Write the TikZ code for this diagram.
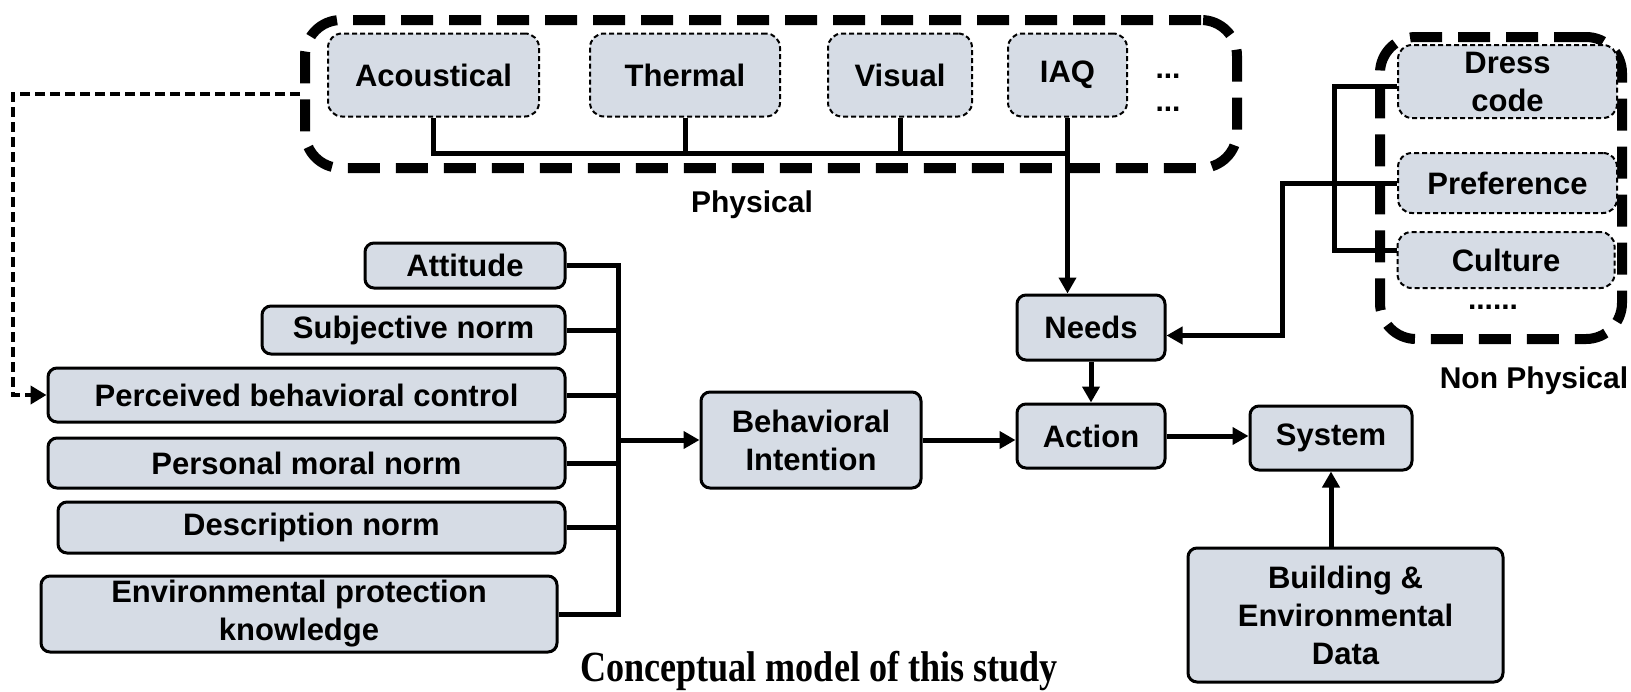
\documentclass[tikz,border=0pt]{standalone}
\usepackage{fontspec}
\setmainfont{Liberation Sans}
\newfontfamily\titlefont{Liberation Serif}[FakeStretch=0.84]
\usetikzlibrary{arrows.meta, positioning, calc}
\definecolor{boxfill}{RGB}{214, 220, 229}
\tikzset{
    box/.style={draw, line width=3pt, fill=boxfill, rounded corners=9pt,
        align=center, inner sep=0pt, font=\bfseries\fontsize{31}{38}\selectfont},
    factor/.style={box, line width=2pt, dash pattern=on 5pt off 3pt, rounded corners=14pt},
    groupbox/.style={draw, line width=10pt, dash pattern=on 32pt off 16pt, rounded corners=36pt, inner sep=0pt},
    lbl/.style={inner sep=0pt, font=\bfseries\fontsize{30}{36}\selectfont},
    link/.style={line width=5pt},
    arrow/.style={link, -{Triangle[length=16pt,width=17pt]}},
    feedback/.style={line width=4.5pt, dash pattern=on 10pt off 5pt, -{Triangle[length=16pt,width=18pt]}}
}

\begin{document}
\begin{tikzpicture}[x=1pt, y=-1pt]
    \useasboundingbox (0,0) rectangle (1631,691);

    % physical factors
    \node[groupbox, minimum width=932pt, minimum height=148pt] (phys) at (771,94) {};
    \node[factor, minimum width=211pt, minimum height=83pt] (acou) at (433.5,75) {Acoustical};
    \node[factor, minimum width=190pt, minimum height=83pt] (therm) at (685,75) {Thermal};
    \node[factor, minimum width=144pt, minimum height=83pt] (visual) at (900,75) {Visual};
    \node[factor, minimum width=119pt, minimum height=83pt] (iaq) at (1067.5,75) {IAQ};
    \node[lbl] (dotsa) at (1168,76) {...};
    \node[lbl] (dotsb) at (1168,109) {...};
    \node[lbl] (physlbl) at (752,205) {Physical};

    % non physical factors
    \node[groupbox, minimum width=242pt, minimum height=302pt] (nonphys) at (1501,188) {};
    \node[factor, minimum width=219pt, minimum height=73pt] (dress) at (1507.5,81.5) {Dress\\code};
    \node[factor, minimum width=219pt, minimum height=60pt] (pref) at (1507.5,183) {Preference};
    \node[factor, minimum width=217pt, minimum height=56pt] (cult) at (1506,260) {Culture};
    \node[lbl] (dotsc) at (1493,307) {......};
    \node[lbl] (nonphyslbl) at (1534,381) {Non Physical};

    % theory of planned behaviour
    \node[box, minimum width=200pt, minimum height=45pt] (att) at (465,265.5) {Attitude};
    \node[box, minimum width=303pt, minimum height=48pt] (subj) at (413.5,330) {Subjective norm};
    \node[box, minimum width=517pt, minimum height=54pt] (pbc) at (306.5,395) {Perceived behavioral control};
    \node[box, minimum width=517pt, minimum height=50pt] (pmn) at (306.5,463) {Personal moral norm};
    \node[box, minimum width=507pt, minimum height=51pt] (desc) at (311.5,527.5) {Description norm};
    \node[box, minimum width=516pt, minimum height=76pt] (env) at (299,614) {Environmental protection\\knowledge};

    \node[box, minimum width=220pt, minimum height=96pt] (bint) at (811,440) {Behavioral\\Intention};
    \node[box, minimum width=148pt, minimum height=65pt] (needs) at (1091,327.5) {Needs};
    \node[box, minimum width=148pt, minimum height=64pt] (action) at (1091,436) {Action};
    \node[box, minimum width=162pt, minimum height=64pt] (system) at (1331,438) {System};
    \node[box, minimum width=315pt, minimum height=134pt] (data) at (1345.5,615) {Building \&\\Environmental\\Data};

    \node[anchor=base, inner sep=0pt, font=\titlefont\bfseries\fontsize{43}{50}\selectfont] (title) at (819,681) {Conceptual model of this study};

    % connectors
    \coordinate (bus) at (0,153);
    \coordinate (busx) at (618,0);
    \draw[link] (acou.south) |- (bus -| iaq.south) -- (iaq.south);
    \foreach \n in {therm, visual}
        \draw[link] (\n.south) -- (\n.south |- bus);
    \draw[arrow] (bus -| iaq.south) -- (needs.north -| iaq.south);

    \draw[link] ([yshift=-5pt]dress.west) -- ++(-63,0) |- ([yshift=10pt]cult.west);
    \draw[arrow] (pref.west) -- ++(-115,0) |- ([yshift=-8pt]needs.east);

    \draw[link] (att.east) -| (env.east -| busx) -- (env.east);
    \foreach \n in {subj, pbc, pmn, desc}
        \draw[link] (\n.east) -- (\n.east -| busx);
    \draw[arrow] (bint.west -| busx) -- (bint.west);

    \draw[feedback] (phys.west) -- ++(-287,0) |- (pbc.west);

    \draw[arrow] (needs) -- (action);
    \draw[arrow] (bint.east) -- (bint.east -| action.west);
    \draw[arrow] (action.east) -- (action.east -| system.west);
    \draw[arrow] (data.north -| system.south) -- (system.south);
\end{tikzpicture}
\end{document}
